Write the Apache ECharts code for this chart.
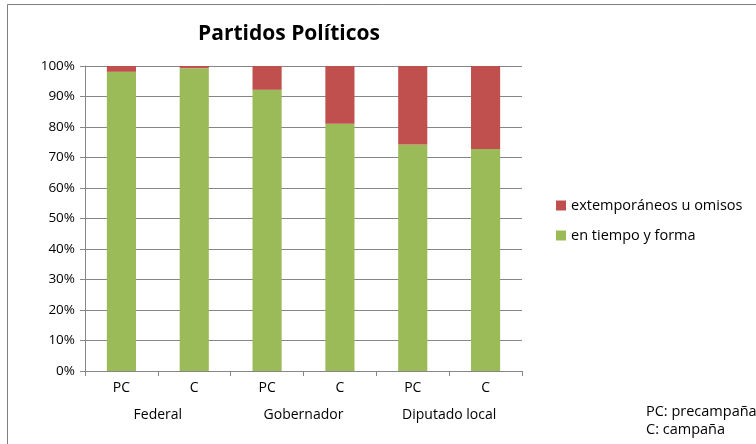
<!DOCTYPE html>
<html>
<head>
<meta charset="utf-8">
<script src="https://cdn.jsdelivr.net/npm/echarts@6/dist/echarts.min.js"></script>
<style>
  html, body { margin: 0; padding: 0; background: #fff; }
</style>
</head>
<body>
<div id="MyChart" style="width: 756px;height:444px;"></div>
<script>
// categorias (nivel 1 y nivel 2)
const categories = ['PC', 'C', 'PC', 'C', 'PC', 'C'];
const groups = ['Federal', 'Gobernador', 'Diputado local'];
// porcentajes
const enTiempo = [98.1, 99.3, 92.2, 81.1, 74.3, 72.8];
const extemporaneos = [1.9, 0.7, 7.8, 18.9, 25.7, 27.2];
const yTicks = [0, 100, 10];

const font = '"Open Sans", Lato, sans-serif';
let myChart = echarts.init(document.getElementById('MyChart'));
let option = {
  animation: false,
  textStyle: { fontFamily: font },
  title: {
    text: 'Partidos Políticos',
    left: 284,
    top: 19,
    textAlign: 'center',
    textStyle: { fontFamily: font, fontSize: 21, fontWeight: 'bold', color: '#000' }
  },
  legend: {
    orient: 'vertical',
    left: 551,
    top: 193,
    itemWidth: 10,
    itemHeight: 10,
    itemGap: 15,
    icon: 'rect',
    data: ['extemporáneos u omisos', 'en tiempo y forma'],
    textStyle: { fontFamily: font, fontSize: 14.5, color: '#000' }
  },
  grid: { left: 85, right: 234, top: 66, bottom: 73 },
  xAxis: [
    {
      type: 'category',
      data: categories,
      axisLine: { lineStyle: { color: '#868686' } },
      axisTick: { show: true, length: 5, lineStyle: { color: '#868686' } },
      axisLabel: { color: '#000', fontSize: 14, margin: 10, fontFamily: font }
    },
    {
      type: 'category',
      data: groups,
      position: 'bottom',
      offset: 27,
      axisLine: { show: false },
      axisTick: { show: false },
      axisLabel: { color: '#000', fontSize: 14, margin: 10, fontFamily: font }
    }
  ],
  yAxis: {
    type: 'value',
    min: yTicks[0],
    max: yTicks[1],
    interval: yTicks[2],
    axisLine: { show: true, lineStyle: { color: '#868686' } },
    axisTick: { show: true, length: 5, lineStyle: { color: '#868686' } },
    splitLine: { lineStyle: { color: '#868686' } },
    axisLabel: { formatter: '{value}%', color: '#000', fontSize: 13.5, margin: 10, fontFamily: font }
  },
  series: [
    {
      name: 'en tiempo y forma',
      type: 'bar',
      stack: 'total',
      barWidth: '40%',
      data: enTiempo,
      itemStyle: { color: '#9BBB59' }
    },
    {
      name: 'extemporáneos u omisos',
      type: 'bar',
      stack: 'total',
      barWidth: '40%',
      data: extemporaneos,
      itemStyle: { color: '#C0504D' }
    }
  ],
  graphic: [
    {
      type: 'rect',
      shape: { x: 7.5, y: 4.5, width: 900, height: 600 },
      style: { fill: 'none', stroke: '#7f7f7f', lineWidth: 1 },
      silent: true
    },
    {
      type: 'text',
      left: 646,
      top: 404,
      style: { text: 'PC: precampaña', font: '14.5px ' + font, fill: '#000' }
    },
    {
      type: 'text',
      left: 646,
      top: 422,
      style: { text: 'C: campaña', font: '14.5px ' + font, fill: '#000' }
    }
  ]
};
myChart.setOption(option);
</script>
</body>
</html>
